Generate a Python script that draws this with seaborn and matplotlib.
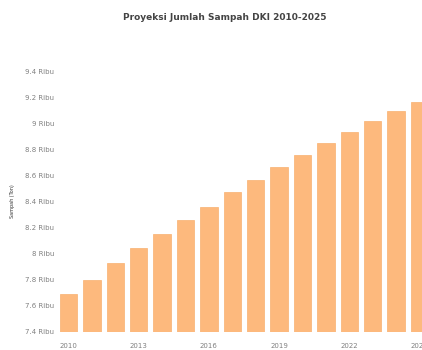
import matplotlib
matplotlib.use("Agg")
import matplotlib.pyplot as plt
import seaborn as sns
import pandas as pd

years = list(range(2010, 2026))
values = [7.69, 7.80, 7.925, 8.04, 8.15, 8.26, 8.36, 8.47, 8.565, 8.665, 8.755, 8.845, 8.935, 9.02, 9.095, 9.165]
ytick_values = [7.4, 7.6, 7.8, 8.0, 8.2, 8.4, 8.6, 8.8, 9.0, 9.2, 9.4]
ytick_labels = ["7.4 Ribu", "7.6 Ribu", "7.8 Ribu", "8 Ribu", "8.2 Ribu", "8.4 Ribu",
                "8.6 Ribu", "8.8 Ribu", "9 Ribu", "9.2 Ribu", "9.4 Ribu"]
xtick_years = [2010, 2013, 2016, 2019, 2022, 2025]
title = "Proyeksi Jumlah Sampah DKI 2010-2025"
ylabel = "Sampah (Ton)"

sns.set_style("white")
plt.rcParams['font.family'] = ['DejaVu Sans']

df = pd.DataFrame({"Tahun": [str(y) for y in years], "Nilai": values})

fig = plt.figure(figsize=(4.22, 3.5), dpi=100)
ax = fig.add_axes([56.8 / 422, 18 / 350, 374.4 / 422, 261 / 350])
sns.barplot(data=df, x="Tahun", y="Nilai", color="#FDB97D", saturation=1, width=0.75,
            edgecolor="#F8B070", linewidth=0.5, ax=ax)
ax.set_ylim(7.4, 9.4)
ax.set_xlim(-0.5, len(years) - 0.5)
ax.set_yticks(ytick_values)
ax.set_yticklabels(ytick_labels, fontsize=5, color="#808080")
ax.set_xticks([years.index(y) for y in xtick_years])
ax.set_xticklabels([str(y) for y in xtick_years], fontsize=5, color="#808080")
ax.tick_params(axis="y", length=0, pad=2)
ax.tick_params(axis="x", length=0, pad=8)
ax.set_xlabel("")
ax.set_ylabel(ylabel, fontsize=3.5, color="#333333", labelpad=7)
for s in ax.spines.values():
    s.set_visible(False)
fig.text(225 / 422, 1 - 18 / 350, title, ha="center", va="center", fontsize=6.5,
         color="#444444", fontweight="bold")
fig.savefig("out.png", dpi=100)
